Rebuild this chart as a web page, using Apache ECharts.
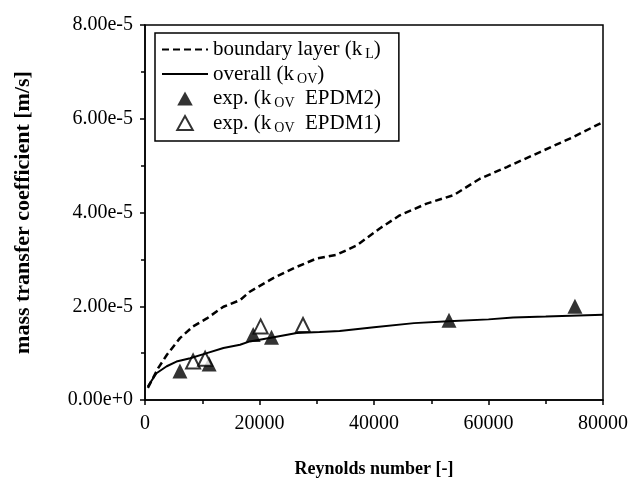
<!DOCTYPE html>
<html>
<head>
<meta charset="utf-8">
<script src="https://cdn.jsdelivr.net/npm/echarts@6/dist/echarts.min.js"></script>
<style>
  html, body { margin: 0; padding: 0; background: #fff; }
  #main { width: 643px; height: 483px; }
</style>
</head>
<body>
<div id="main"></div>
<script>
// Reynolds number vs mass transfer coefficient [m/s]
const boundaryLayer = [
  [500, 0.26e-5], [2300, 0.68e-5], [3800, 0.96e-5], [6100, 1.32e-5], [8400, 1.57e-5],
  [10800, 1.74e-5], [13700, 1.99e-5], [16600, 2.13e-5], [18300, 2.31e-5], [22400, 2.60e-5],
  [26500, 2.84e-5], [30000, 3.02e-5], [33500, 3.10e-5], [37000, 3.30e-5], [41000, 3.66e-5],
  [44500, 3.94e-5], [49200, 4.19e-5], [53900, 4.37e-5], [58500, 4.72e-5], [63200, 4.97e-5],
  [69000, 5.29e-5], [74800, 5.61e-5], [80000, 5.93e-5]
];
const overall = [
  [500, 0.29e-5], [2000, 0.57e-5], [3800, 0.72e-5], [5500, 0.82e-5], [7900, 0.89e-5],
  [10800, 1.00e-5], [13700, 1.11e-5], [16600, 1.18e-5], [18300, 1.25e-5], [22000, 1.33e-5],
  [26500, 1.43e-5], [30500, 1.45e-5], [34000, 1.47e-5], [40000, 1.55e-5], [47000, 1.64e-5],
  [53000, 1.68e-5], [60000, 1.72e-5], [64300, 1.76e-5], [70000, 1.78e-5], [80000, 1.82e-5]
];
const expEPDM2 = [
  [6100, 0.62e-5], [11200, 0.77e-5], [18900, 1.40e-5], [22100, 1.34e-5], [53100, 1.70e-5], [75100, 2.00e-5]
];
const expEPDM1 = [
  [8400, 0.82e-5], [10500, 0.88e-5], [20200, 1.57e-5], [27600, 1.60e-5]
];
const xTicks = [0, 80000, 20000];      // min, max, interval
const yTicks = [0, 8e-5, 2e-5];

const font = '"Liberation Serif", "DejaVu Serif", serif';
const triIcon = 'path://M5,0L10,9L0,9Z';

let myChart = echarts.init(document.getElementById('main'));
let option = {
  backgroundColor: '#fff',
  animation: false,
  textStyle: { fontFamily: font, color: '#000' },
  grid: {
    left: 145, right: 40, top: 25, bottom: 81,
    show: true, borderColor: '#000', borderWidth: 1.5
  },
  legend: {
    orient: 'vertical',
    left: 155, top: 33,
    padding: [6, 18, 6, 6],
    itemGap: 2,
    itemWidth: 46,
    itemHeight: 14,
    backgroundColor: '#fff',
    borderColor: '#000',
    borderWidth: 1.5,
    textStyle: {
      fontFamily: font, fontSize: 21, color: '#000',
      rich: {
        n: { fontFamily: font, fontSize: 21, color: '#000' },
        s: { fontFamily: font, fontSize: 14, color: '#000', padding: [10, 0, 0, 3] }
      }
    },
    formatter: function (name) {
      const parts = {
        'boundary layer': '{n|boundary layer (k}{s|L}{n|)}',
        'overall': '{n|overall (k}{s|OV}{n|)}',
        'EPDM2': '{n|exp. (k}{s|OV}{n|  EPDM2)}',
        'EPDM1': '{n|exp. (k}{s|OV}{n|  EPDM1)}'
      };
      return parts[name];
    },
    data: [
      { name: 'boundary layer', itemStyle: { opacity: 0 } },
      { name: 'overall', itemStyle: { opacity: 0 } },
      { name: 'EPDM2', icon: triIcon },
      { name: 'EPDM1', icon: triIcon }
    ]
  },
  xAxis: {
    type: 'value',
    min: xTicks[0], max: xTicks[1], interval: xTicks[2],
    name: 'Reynolds number [-]',
    nameLocation: 'middle',
    nameGap: 60,
    nameTextStyle: { fontFamily: font, fontSize: 18, fontWeight: 'bold', color: '#000' },
    axisLine: { lineStyle: { color: '#000', width: 1.5 } },
    axisTick: { inside: false, length: 5, lineStyle: { color: '#000', width: 1.5 } },
    minorTick: { show: true, splitNumber: 2, length: 4, lineStyle: { color: '#000', width: 1.5 } },
    axisLabel: {
      fontFamily: font, fontSize: 20, color: '#000', margin: 14,
      formatter: function (v) { return String(v); }
    },
    splitLine: { show: false }
  },
  yAxis: {
    type: 'value',
    min: yTicks[0], max: yTicks[1], interval: yTicks[2],
    name: 'mass transfer coefficient [m/s]',
    nameLocation: 'middle',
    nameGap: 111,
    nameTextStyle: { fontFamily: font, fontSize: 22, fontWeight: 'bold', color: '#000' },
    axisLine: { lineStyle: { color: '#000', width: 1.5 } },
    axisTick: { inside: false, length: 5, lineStyle: { color: '#000', width: 1.5 } },
    minorTick: { show: true, splitNumber: 2, length: 4, lineStyle: { color: '#000', width: 1.5 } },
    axisLabel: {
      fontFamily: font, fontSize: 20, color: '#000', margin: 12,
      formatter: function (v) { return v.toExponential(2); }
    },
    splitLine: { show: false }
  },
  series: [
    {
      name: 'boundary layer',
      type: 'line',
      symbol: 'none',
      itemStyle: { color: '#000' },
      lineStyle: { color: '#000', width: 2.5, type: [7, 4] },
      data: boundaryLayer
    },
    {
      name: 'overall',
      type: 'line',
      symbol: 'none',
      itemStyle: { color: '#000' },
      lineStyle: { color: '#000', width: 2 },
      data: overall
    },
    {
      name: 'EPDM2',
      type: 'scatter',
      symbol: 'triangle',
      symbolSize: 15,
      itemStyle: { color: '#000' },
      data: expEPDM2
    },
    {
      name: 'EPDM1',
      type: 'scatter',
      symbol: 'triangle',
      symbolSize: 14,
      itemStyle: { color: '#fff', borderColor: '#000', borderWidth: 2 },
      data: expEPDM1
    }
  ]
};
myChart.setOption(option);
</script>
</body>
</html>
